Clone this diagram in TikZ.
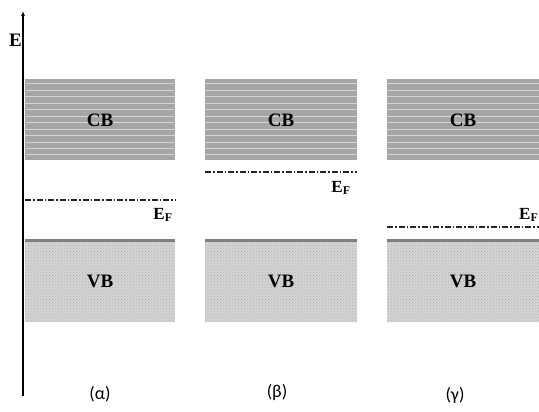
\documentclass[tikz,border=0pt]{standalone}
\usepackage{fontspec}
\usetikzlibrary{arrows.meta,patterns}
\setmainfont{Liberation Serif}
\newfontfamily\capfont{Carlito}
\begin{document}
\begin{tikzpicture}[x=1pt,y=-1pt,
  cbband/.style={fill=black!35,draw=none},
  vbband/.style={fill=black!17,draw=none},
  vbdots/.style={pattern=crosshatch dots,pattern color=black!30},
  vbtop/.style={draw=black!50,line width=3pt},
  stripe/.style={draw=black!17,line width=1pt},
  fermi/.style={draw=black!85,line width=1.6pt,dash pattern=on 6pt off 2pt on 1.5pt off 2pt},
  bandlbl/.style={font=\bfseries\fontsize{19}{19}\selectfont},
  eflbl/.style={font=\bfseries\fontsize{17}{17}\selectfont},
  caplbl/.style={font=\capfont\fontsize{18}{18}\selectfont}]
\useasboundingbox (0,0) rectangle (539,412);
% axis
\coordinate (ab) at (23,396);
\coordinate (at) at (23,11);
\draw[line width=1.6pt,-{Latex[length=5pt,width=4pt]}] (ab) -- (at);
\node[bandlbl,anchor=east,inner sep=0pt] (E) at (22,40) {E};
% panels
\foreach \x/\w/\ef/\nm in {25/150/200/a,205/152/172/b,387/152/227/c}{
  \fill[cbband] (\x,79) rectangle ++(\w,81);
  \foreach \s in {84,91,97,104,110,117,123,130,136,143,149,155}{
    \draw[stripe] (\x,\s) -- ++(\w,0);
  }
  \fill[vbband] (\x,240) rectangle ++(\w,82);
  \fill[vbdots] (\x,240) rectangle ++(\w,82);
  \draw[vbtop] (\x,240) -- ++(\w,0);
  \coordinate (efl\nm) at (\x,\ef);
  \coordinate (efr\nm) at (\x+\w,\ef);
  \draw[fermi] (efl\nm) -- (efr\nm);
  \node[bandlbl] (cb\nm) at (\x+0.5*\w,120) {CB};
  \node[bandlbl] (vb\nm) at (\x+0.5*\w,281) {VB};
}
\node[eflbl] (efa) at (163,215) {E$_{\mathbf F}$};
\node[eflbl] (efb) at (341,188) {E$_{\mathbf F}$};
\node[eflbl,anchor=east,inner sep=0.5pt] (efc) at (539,215) {E$_{\mathbf F}$};
\node[caplbl] (la) at (100,394) {(α)};
\node[caplbl] (lb) at (277,392) {(β)};
\node[caplbl] (lc) at (455,395) {(γ)};
\end{tikzpicture}
\end{document}
